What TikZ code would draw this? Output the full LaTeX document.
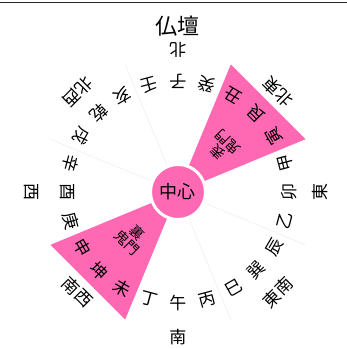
\documentclass[tikz,border=0pt]{standalone}
\usepackage{fontspec}
\setmainfont{Noto Sans CJK JP}

\definecolor{kimonpink}{RGB}{255,105,180}

\tikzset{
  mtn/.style={inner sep=0pt, font=\fontsize{17}{17}\selectfont, rotate=#1+90},
  dirlabel/.style={inner sep=0pt, font=\fontsize{17}{17}\selectfont, rotate=#1+90},
  kimon/.style={inner sep=0pt, align=center, font=\fontsize{14}{14}\selectfont, rotate=#1+90}
}

\begin{document}
\begin{tikzpicture}[x=1pt,y=1pt]

      \useasboundingbox (-178,-157) rectangle (169,192);

      % Frame line
      \draw[line width=1pt,black!85] (-178,189.3) -- (169,189.3);

      % Sector lines
      \begin{scope}[every path/.style={draw=black!5,line width=0.8pt}]
        \coordinate (c) at (0,0);
        \coordinate (e1) at (112.5:138);
        \coordinate (e2) at (157.5:138);
        \coordinate (e3) at (-22.5:138);
        \coordinate (e4) at (-67.5:138);
        \path (c) -- (e1);
        \path (c) -- (e2);
        \path (c) -- (e3);
        \path (c) -- (e4);
      \end{scope}

      % Kimon sectors
      \fill[kimonpink] (0,0) -- (22.5:138) -- (67.5:138) -- cycle;
      \fill[kimonpink] (0,0) -- (202.5:138) -- (247.5:138) -- cycle;

      % Center
      \node[circle,fill=kimonpink,draw=white,line width=3pt,minimum size=55pt,
            inner sep=0pt,font=\fontsize{18}{18}\selectfont] (center) at (0,0) {中心};

      % Kimon labels
      \node[kimon=45] (omote) at (45:63) {表\\鬼門};
      \node[kimon=225] (ura) at (225:65) {裏\\鬼門};

      % Mountains
      \node[mtn=90] (m01) at (90:111) {子};
      \node[mtn=75] (m02) at (75:111) {癸};
      \node[mtn=60] (m03) at (60:111) {丑};
      \node[mtn=45] (m04) at (45:111) {艮};
      \node[mtn=30] (m05) at (30:111) {寅};
      \node[mtn=15] (m06) at (15:111) {甲};
      \node[mtn=0] (m07) at (0:111) {卯};
      \node[mtn=-15] (m08) at (-15:111) {乙};
      \node[mtn=-30] (m09) at (-30:111) {辰};
      \node[mtn=-45] (m10) at (-45:111) {巽};
      \node[mtn=-60] (m11) at (-60:111) {巳};
      \node[mtn=-75] (m12) at (-75:111) {丙};
      \node[mtn=-90] (m13) at (-90:111) {午};
      \node[mtn=-105] (m14) at (-105:111) {丁};
      \node[mtn=-120] (m15) at (-120:111) {未};
      \node[mtn=-135] (m16) at (-135:111) {坤};
      \node[mtn=-150] (m17) at (-150:111) {申};
      \node[mtn=-165] (m18) at (-165:111) {庚};
      \node[mtn=180] (m19) at (180:111) {酉};
      \node[mtn=165] (m20) at (165:111) {辛};
      \node[mtn=150] (m21) at (150:111) {戌};
      \node[mtn=135] (m22) at (135:111) {乾};
      \node[mtn=120] (m23) at (120:111) {亥};
      \node[mtn=105] (m24) at (105:111) {壬};

      % Directions
      \node[dirlabel=90] (d1) at (90:142) {北};
      \node[dirlabel=45] (d2) at (45:142) {北東};
      \node[dirlabel=0] (d3) at (0:142) {東};
      \node[dirlabel=-45] (d4) at (-45:142) {東南};
      \node[dirlabel=-90] (d5) at (-90:145) {南};
      \node[dirlabel=-135] (d6) at (-135:142) {南西};
      \node[dirlabel=180] (d7) at (180:147) {西};
      \node[dirlabel=135] (d8) at (135:142) {北西};

      % Altar
      \node[inner sep=0pt,font=\fontsize{22}{22}\selectfont] (altar) at (0,166) {仏壇};

    \end{tikzpicture}
\end{document}
